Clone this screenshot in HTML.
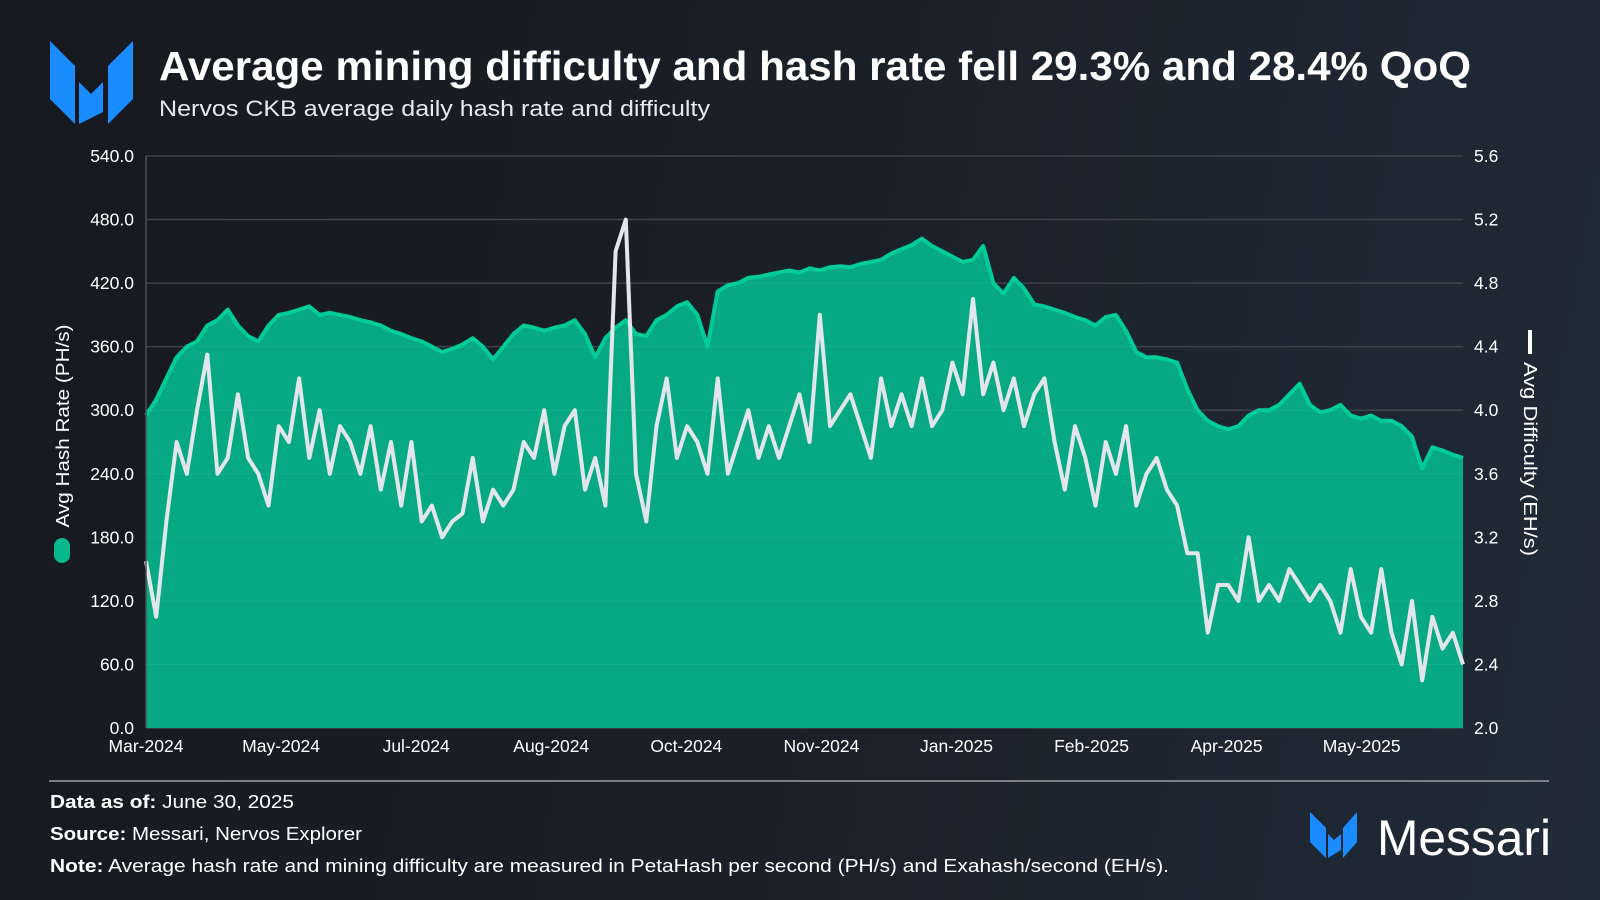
<!DOCTYPE html>
<html><head><meta charset="utf-8"><style>
html,body{margin:0;padding:0;}
body{width:1600px;height:900px;overflow:hidden;background:linear-gradient(100deg,#16191e 0%,#1a2029 50%,#202b39 100%);font-family:"Liberation Sans",sans-serif;}
svg{display:block}
text{font-family:"Liberation Sans",sans-serif;}
</style></head><body>
<svg id="chart" width="1600" height="900" viewBox="0 0 1600 900">
  <defs><clipPath id="areaClip"><path id="clipPath" d=""/></clipPath></defs>
  <g fill="#1a8cff">
    <polygon points="50,41 75,66 75,124 50,99"/>
    <polygon points="79,82 91,94 103,82 103,112 79,124"/>
    <polygon points="133,41 108,66 108,124 133,99"/>
  </g>
  <text x="159" y="80" fill="#ffffff" font-size="41" font-weight="bold" textLength="1312" lengthAdjust="spacingAndGlyphs">Average mining difficulty and hash rate fell 29.3% and 28.4% QoQ</text>
  <text x="159" y="116" fill="#e6e9ee" font-size="22.5" textLength="551" lengthAdjust="spacingAndGlyphs">Nervos CKB average daily hash rate and difficulty</text>
  <g id="grid"></g>
  <g id="plot"></g>
  <g id="axes"></g>
  <g>
    <rect x="54" y="538" width="16" height="25" rx="8" fill="#07b88f"/>
    <text transform="translate(69,426) rotate(-90)" text-anchor="middle" fill="#ffffff" font-size="18" textLength="203" lengthAdjust="spacingAndGlyphs">Avg Hash Rate (PH/s)</text>
  </g>
  <g>
    <rect x="1528" y="330" width="4" height="24" fill="#ffffff"/>
    <text transform="translate(1524,459) rotate(90)" text-anchor="middle" fill="#ffffff" font-size="18" textLength="194" lengthAdjust="spacingAndGlyphs">Avg Difficulty (EH/s)</text>
  </g>
  <line x1="49" y1="781" x2="1549" y2="781" stroke="#7a7f86" stroke-width="2"/>
  <text x="50" y="808" fill="#ffffff" font-size="18.5" textLength="244" lengthAdjust="spacingAndGlyphs"><tspan font-weight="bold">Data as of:</tspan> June 30, 2025</text>
  <text x="50" y="840" fill="#ffffff" font-size="18.5" textLength="312" lengthAdjust="spacingAndGlyphs"><tspan font-weight="bold">Source:</tspan> Messari, Nervos Explorer</text>
  <text x="50" y="872" fill="#ffffff" font-size="18.5" textLength="1119" lengthAdjust="spacingAndGlyphs"><tspan font-weight="bold">Note:</tspan> Average hash rate and mining difficulty are measured in PetaHash per second (PH/s) and Exahash/second (EH/s).</text>
  <g>
    <polygon points="1310,812 1326,828 1326,858 1310,842" fill="#1a8cff"/>
    <polygon points="1328,834 1334,840 1341,834 1341,850 1328,858" fill="#1a8cff"/>
    <polygon points="1357,812 1343,828 1343,858 1357,842" fill="#1a8cff"/>
    <text x="1377" y="855" fill="#ffffff" font-size="50" textLength="174" lengthAdjust="spacingAndGlyphs">Messari</text>
  </g>
</svg>
<script>
const hashRate=[295,310,330,350,360,365,380,385,395,380,
370,365,380,390,392,395,398,390,392,390,
388,385,383,380,375,372,368,365,360,355,
358,362,368,360,348,360,372,380,378,375,
378,380,385,372,350,368,378,385,372,370,
385,390,398,402,390,360,412,418,420,425,
426,428,430,432,430,434,432,435,436,435,
438,440,442,448,452,456,462,455,450,445,
440,442,455,420,410,425,415,400,398,395,
392,388,385,380,388,390,375,355,350,350,
348,345,320,300,290,285,282,285,295,300,
300,305,315,325,305,298,300,305,295,292,
295,290,290,285,275,245,265,262,258,255];
const difficulty=[3.05,2.7,3.3,3.8,3.6,4.0,4.35,3.6,3.7,4.1,
3.7,3.6,3.4,3.9,3.8,4.2,3.7,4.0,3.6,3.9,
3.8,3.6,3.9,3.5,3.8,3.4,3.8,3.3,3.4,3.2,
3.3,3.35,3.7,3.3,3.5,3.4,3.5,3.8,3.7,4.0,
3.6,3.9,4.0,3.5,3.7,3.4,5.0,5.2,3.6,3.3,
3.9,4.2,3.7,3.9,3.8,3.6,4.2,3.6,3.8,4.0,
3.7,3.9,3.7,3.9,4.1,3.8,4.6,3.9,4.0,4.1,
3.9,3.7,4.2,3.9,4.1,3.9,4.2,3.9,4.0,4.3,
4.1,4.7,4.1,4.3,4.0,4.2,3.9,4.1,4.2,3.8,
3.5,3.9,3.7,3.4,3.8,3.6,3.9,3.4,3.6,3.7,
3.5,3.4,3.1,3.1,2.6,2.9,2.9,2.8,3.2,2.8,
2.9,2.8,3.0,2.9,2.8,2.9,2.8,2.6,3.0,2.7,
2.6,3.0,2.6,2.4,2.8,2.3,2.7,2.5,2.6,2.4];
const xLabels=["Mar-2024","May-2024","Jul-2024","Aug-2024","Oct-2024","Nov-2024","Jan-2025","Feb-2025","Apr-2025","May-2025"];
const leftTicks=[0,60,120,180,240,300,360,420,480,540];
const rightTicks=[2.0,2.4,2.8,3.2,3.6,4.0,4.4,4.8,5.2,5.6];

const NS="http://www.w3.org/2000/svg";
const L=146,R=1463,T=156,B=728;
const n=hashRate.length;
const xs=i=>L+(R-L)*i/(n-1);
const yL=v=>B-(v-0)/(540-0)*(B-T);
const yR=v=>B-(v-2.0)/(5.6-2.0)*(B-T);
function mk(tag,attrs,parent){const e=document.createElementNS(NS,tag);for(const k in attrs)e.setAttribute(k,attrs[k]);parent.appendChild(e);return e;}
const gridG=document.getElementById('grid'),plotG=document.getElementById('plot'),axesG=document.getElementById('axes');

leftTicks.forEach(t=>{
  const g=mk('line',{x1:L,x2:R,y1:yL(t),y2:yL(t),stroke:'#3d434b','stroke-width':1.5},gridG);
  
  
  const tx=mk('text',{x:134,y:yL(t)+6,'text-anchor':'end',fill:'#ffffff','font-size':17.5},axesG);
  tx.textContent=t.toFixed(1);
  
  
});
rightTicks.forEach(t=>{
  const tx=mk('text',{x:1474,y:yR(t)+6,fill:'#ffffff','font-size':17.5},axesG);
  tx.textContent=t.toFixed(1);
  
  
});
const step=(n-1)/9.75;
xLabels.forEach((lab,i)=>{
  const tx=mk('text',{x:L+(R-L)*(i*step)/(n-1),y:752,'text-anchor':'middle',fill:'#ffffff','font-size':17.5},axesG);
  tx.textContent=lab;
  
  
});

let d='M'+xs(0)+','+B;
hashRate.forEach((v,i)=>{d+=' L'+xs(i).toFixed(1)+','+yL(v).toFixed(1);});
d+=' L'+xs(n-1)+','+B+' Z';
document.getElementById('clipPath').setAttribute('d',d);
const areaEl=mk('path',{d:d,fill:'#07a884'},plotG);


const inner=mk('g',{'clip-path':'url(#areaClip)'},plotG);


leftTicks.forEach(t=>{
  if(t===0)return;
  const gl=mk('line',{x1:L,x2:R,y1:yL(t),y2:yL(t),stroke:'#1db893','stroke-opacity':0.5,'stroke-width':1},inner);
  
  
});
const hashLine=mk('polyline',{points:hashRate.map((v,i)=>xs(i).toFixed(1)+','+yL(v).toFixed(1)).join(' '),fill:'none',stroke:'#00cc98','stroke-width':4,'stroke-linejoin':'round'},plotG);


const diffLine=mk('polyline',{points:difficulty.map((v,i)=>xs(i).toFixed(1)+','+yR(v).toFixed(1)).join(' '),fill:'none',stroke:'#e2e6ec','stroke-width':4,'stroke-linejoin':'round'},plotG);


const axLine=mk('line',{x1:L,x2:L,y1:T,y2:B,stroke:'#4a5058','stroke-width':1.5},axesG);


</script>
</body></html>
